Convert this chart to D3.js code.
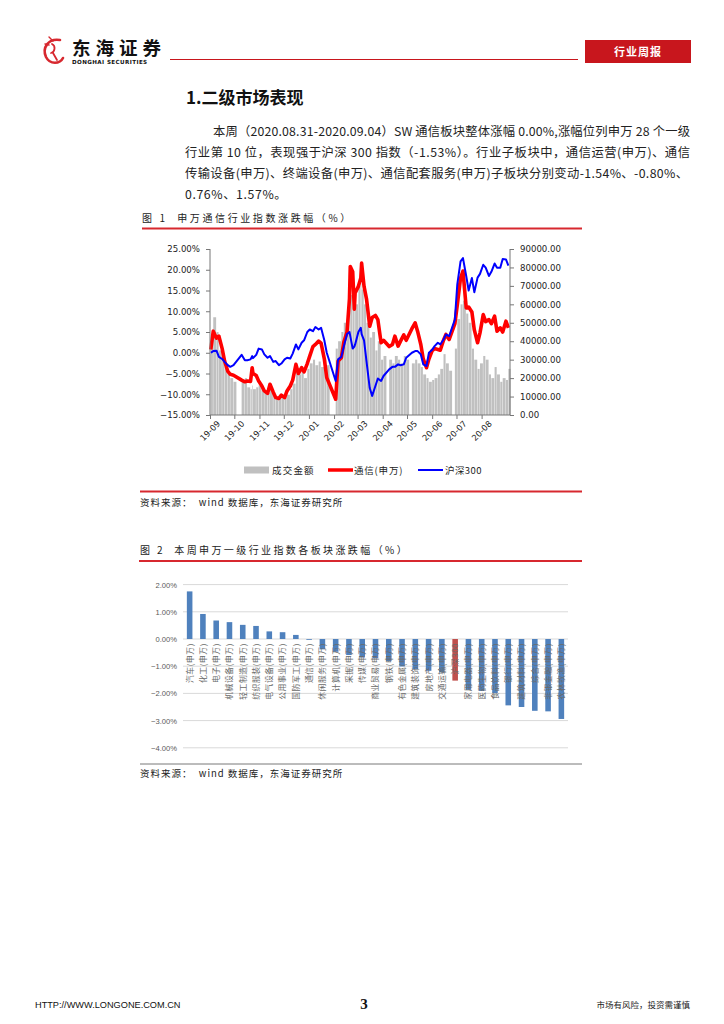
<!DOCTYPE html>
<html><head><meta charset="utf-8">
<script src="https://cdn.jsdelivr.net/npm/d3@7"></script>
<style>body{margin:0;background:#fff}svg{display:block}text{white-space:pre}</style>
</head><body>
<svg id="page" width="724" height="1024"></svg>
<script>
// ---------- Figure 1 data ----------
const lineDates = [
"2019-09-02","2019-09-05","2019-09-09","2019-09-12","2019-09-16","2019-09-19","2019-09-23","2019-09-26","2019-09-30",
"2019-10-10","2019-10-14","2019-10-17","2019-10-21","2019-10-23","2019-10-24","2019-10-28","2019-10-31",
"2019-11-04","2019-11-07","2019-11-11","2019-11-14","2019-11-18","2019-11-21","2019-11-25","2019-11-28",
"2019-12-02","2019-12-05","2019-12-09","2019-12-12","2019-12-16","2019-12-19","2019-12-23","2019-12-26","2019-12-30",
"2020-01-02","2020-01-06","2020-01-09","2020-01-13","2020-01-16","2020-01-20","2020-01-23",
"2020-02-03","2020-02-06","2020-02-10","2020-02-13","2020-02-17","2020-02-20","2020-02-21","2020-02-24","2020-02-26","2020-02-27",
"2020-03-02","2020-03-05","2020-03-06","2020-03-09","2020-03-12","2020-03-16","2020-03-19","2020-03-23","2020-03-26","2020-03-30",
"2020-04-02","2020-04-09","2020-04-13","2020-04-16","2020-04-20","2020-04-23","2020-04-27","2020-04-30",
"2020-05-07","2020-05-11","2020-05-14","2020-05-18","2020-05-21","2020-05-25","2020-05-28",
"2020-06-01","2020-06-04","2020-06-08","2020-06-11","2020-06-15","2020-06-18","2020-06-22","2020-06-29",
"2020-07-02","2020-07-06","2020-07-09","2020-07-13","2020-07-16","2020-07-20","2020-07-23","2020-07-27","2020-07-30",
"2020-08-03","2020-08-06","2020-08-10","2020-08-13","2020-08-17","2020-08-20","2020-08-24","2020-08-27","2020-08-31",
"2020-09-03"];
// 通信(申万) cumulative change, %
const telecomPct = [
0.8,5.2,3.5,4.0,1.0,-2.0,-4.5,-5.2,-5.4,
-6.6,-7.0,-6.8,-6.9,-3.6,-5.0,-5.5,-6.8,
-8.0,-9.2,-9.8,-7.6,-9.5,-10.8,-11.0,-10.2,
-10.8,-9.2,-8.0,-6.6,-2.8,-5.0,-3.6,-4.6,-2.6,
-0.8,1.5,2.0,2.8,2.3,-1.5,-6.0,
-11.2,-2.0,-1.2,2.5,5.0,13.0,20.8,19.5,10.5,14.4,
16.0,18.0,21.6,16.0,13.0,6.4,8.5,9.0,8.0,2.4,
3.0,1.5,2.0,4.0,1.6,2.8,4.3,3.0,
5.8,7.2,5.2,2.0,-1.5,-3.6,-1.5,
0.5,1.0,0.8,0.6,3.0,4.4,3.2,7.0,
11.5,18.0,19.7,10.8,11.0,9.8,5.5,2.4,4.8,
9.2,7.5,8.0,7.0,8.8,5.2,6.0,5.0,7.6,
6.0];
// 沪深300 cumulative change, %
const hs300Pct = [
0.0,0.4,0.5,-1.0,-1.5,-2.2,-3.0,-3.4,-3.0,
-0.5,-1.8,-1.8,-1.6,-0.8,-1.3,-0.5,1.0,
0.8,-0.4,-1.2,-0.8,-2.2,-2.0,-3.0,-2.6,
-1.6,-1.2,-1.4,-0.2,2.0,0.8,2.4,3.0,5.0,
5.6,5.2,6.2,5.6,6.0,3.0,0.0,
-6.8,-1.6,-1.0,1.5,4.5,5.0,4.0,1.0,1.5,2.0,
5.0,6.0,4.5,3.0,-2.0,-8.5,-10.4,-8.0,-6.2,-6.8,
-5.6,-4.0,-3.4,-3.4,-2.8,-3.0,-2.8,-1.2,
0.0,0.4,0.4,-0.4,-2.8,-3.2,0.0,
0.7,1.6,2.4,2.0,3.2,4.4,4.0,8.0,
16.5,22.0,22.8,18.5,15.0,18.0,14.6,18.1,19.0,
21.2,20.5,18.5,19.5,21.5,20.5,20.5,22.6,22.5,
21.0];
// 成交金额 (right axis)
const turnover = [
40000,53000,45000,35000,30000,26000,22000,20000,18000,
18000,20000,15000,14000,16000,14000,15000,16000,
14000,13000,12000,15000,11000,10000,10000,10000,
10000,11000,14000,17000,25000,22000,24000,20000,25000,
28000,30000,27000,29000,26000,30000,27000,
36000,40000,45000,50000,55000,60000,65000,68000,62000,60000,
70000,72000,68000,60000,50000,42000,45000,35000,40000,30000,
32000,30000,28000,32000,30000,28000,32000,30000,
28000,30000,28000,26000,22000,20000,18000,
19000,20000,22000,25000,33000,28000,24000,36000,
52000,60000,62000,55000,50000,36000,30000,25000,28000,
32000,30000,22000,20000,26000,22000,18000,20000,19000,
25000];
const leftTicks = [-15,-10,-5,0,5,10,15,20,25];
const rightTicks = [0,10000,20000,30000,40000,50000,60000,70000,80000,90000];
const monthTicks = ["2019-09-01","2019-10-01","2019-11-01","2019-12-01","2020-01-01","2020-02-01",
"2020-03-01","2020-04-01","2020-05-01","2020-06-01","2020-07-01","2020-08-01"];
const legend1 = ["成交金额","通信(申万)","沪深300"];

// ---------- Figure 2 data ----------
const industries = ["汽车(申万)","化工(申万)","电子(申万)","机械设备(申万)","轻工制造(申万)","纺织服装(申万)",
"电气设备(申万)","公用事业(申万)","国防军工(申万)","通信(申万)","休闲服务(申万)","计算机(申万)","采掘(申万)",
"传媒(申万)","商业贸易(申万)","钢铁(申万)","有色金属(申万)","建筑装饰(申万)","房地产(申万)","交通运输(申万)",
"沪深300","家用电器(申万)","医药生物(申万)","食品饮料(申万)","银行(申万)","建筑材料(申万)","综合(申万)",
"非银金融(申万)","农林牧渔(申万)"];
const weeklyChange = [1.75,0.92,0.68,0.62,0.52,0.48,0.28,0.25,0.15,0.00,-0.38,-0.47,-0.59,
-0.68,-0.71,-0.81,-1.01,-1.11,-1.17,-1.23,-1.53,-1.87,-1.91,-1.99,-2.44,-2.50,-2.64,-2.66,-2.94];
const pctTicks = [2,1,0,-1,-2,-3,-4];

const paragraph = [
"本周（2020.08.31-2020.09.04）SW 通信板块整体涨幅 0.00%,涨幅位列申万 28 个一级",
"行业第 10 位，表现强于沪深 300 指数（-1.53%）。行业子板块中，通信运营(申万)、通信",
"传输设备(申万)、终端设备(申万)、通信配套服务(申万)子板块分别变动-1.54%、-0.80%、",
"0.76%、1.57%。"];

// ---------- drawing ----------
const CJK = "'Noto Sans CJK SC','Noto Sans',sans-serif";
const svg = d3.select("#page");
svg.append("rect").attr("width",724).attr("height",1024).attr("fill","#fff");

// header
const logo = svg.append("g").attr("fill","none").attr("stroke","#d7282f").attr("stroke-linecap","round");
logo.append("path").attr("d","M60,40 C48,38 42,48 46,57 C50,65 60,64 63,58").attr("stroke-width",2.6);
logo.append("path").attr("d","M52,44 C56,46 55,52 51,53 M53,53 L57,60").attr("stroke-width",1.8);
logo.append("path").attr("d","M49,37 L53,41 M45,44 L49,45").attr("stroke-width",1.4);
svg.append("text").attr("x",72).attr("y",54.5).attr("font-family",CJK).attr("font-weight","bold")
  .attr("font-size",18.5).attr("letter-spacing",5).attr("fill","#111").text("东海证券");
svg.append("text").attr("x",72).attr("y",64).attr("font-family","'DejaVu Sans',sans-serif").attr("font-weight","bold")
  .attr("font-size",5.6).attr("letter-spacing",0.4).attr("fill","#111").text("DONGHAI SECURITIES");
svg.append("line").attr("x1",170).attr("x2",578).attr("y1",59.5).attr("y2",59.5).attr("stroke","#c8161d").attr("stroke-width",1.2);
svg.append("rect").attr("x",585).attr("y",40).attr("width",106).attr("height",23).attr("fill","#c8161d");
svg.append("text").attr("x",638).attr("y",56).attr("text-anchor","middle").attr("font-family",CJK).attr("font-weight","bold")
  .attr("font-size",11).attr("letter-spacing",1).attr("fill","#fff").text("行业周报");

// section title & paragraph
svg.append("text").attr("x",186).attr("y",104).attr("font-family",CJK).attr("font-weight","bold")
  .attr("font-size",17).attr("fill","#111").text("1.二级市场表现");
const paraX = [213,185,185,185], paraW = [477,505,503,null];
paragraph.forEach((t,i)=>{
  const el = svg.append("text").attr("x",paraX[i]).attr("y",136+i*21).attr("font-family",CJK)
    .attr("font-size",12.3).attr("fill","#222").text(t);
  if (paraW[i]) el.attr("textLength",paraW[i]).attr("lengthAdjust","spacing");
  else el.attr("letter-spacing",0.6);
});

// figure 1 caption
svg.append("text").attr("x",142).attr("y",222).attr("font-family",CJK).attr("font-size",10)
  .attr("fill","#222").attr("letter-spacing",2.6).text("图 1  申万通信行业指数涨跌幅（%）");
svg.append("line").attr("x1",142).attr("x2",582).attr("y1",228.5).attr("y2",228.5).attr("stroke","#d7282f").attr("stroke-width",2);

// chart 1
const parse = d3.timeParse("%Y-%m-%d");
const dates = lineDates.map(parse);
const x = d3.scaleTime().domain([parse("2019-09-01"),parse("2020-09-05")]).range([210,510]);
const yL = d3.scaleLinear().domain([-15,25]).range([415,249]);
const yR = d3.scaleLinear().domain([0,90000]).range([415,249]);
const dayPx = x(parse("2019-09-05"))-x(parse("2019-09-01"));

const c1 = svg.append("g");
c1.selectAll("rect.vol").data(turnover).join("rect").attr("class","vol")
  .attr("x",(d,i)=>x(dates[i]))
  .attr("width",(d,i)=>{
    const x0=x(dates[i]);
    const x1 = i<dates.length-1 ? Math.min(x(dates[i+1]), x0+dayPx) : x0+2.6;
    return Math.max(0.6,x1-x0-0.35);
  })
  .attr("y",d=>yR(d)).attr("height",d=>yR(0)-yR(d)).attr("fill","#c0c0c0");

const lineGen = vals => d3.line().x((d,i)=>x(dates[i])).y(d=>yL(d))(vals);
c1.append("path").attr("d",lineGen(telecomPct)).attr("fill","none").attr("stroke","#ff0000")
  .attr("stroke-width",3.6).attr("stroke-linejoin","round");
c1.append("path").attr("d",lineGen(hs300Pct)).attr("fill","none").attr("stroke","#0000ff")
  .attr("stroke-width",2).attr("stroke-linejoin","round");

const axFont = "'DejaVu Sans',Verdana,sans-serif";
const axL = c1.append("g").attr("transform","translate(210,0)")
  .call(d3.axisLeft(yL).tickValues(leftTicks).tickSize(4).tickFormat(d=>d3.format(".2f")(d)+"%"));
axL.selectAll("text").attr("font-family",axFont).attr("font-size",8.6).attr("fill","#222").attr("dx",-3);
const axR = c1.append("g").attr("transform","translate(510,0)")
  .call(d3.axisRight(yR).tickValues(rightTicks).tickSize(4).tickFormat(d3.format(".2f")));
axR.selectAll("text").attr("font-family",axFont).attr("font-size",8.6).attr("fill","#222").attr("dx",3);
const axB = c1.append("g").attr("transform","translate(0,415)")
  .call(d3.axisBottom(x).tickValues(monthTicks.map(parse)).tickSize(4).tickFormat(d3.timeFormat("%y-%m")));
axB.selectAll("text").attr("font-family",axFont).attr("font-size",8.4).attr("fill","#222")
  .attr("text-anchor","end").attr("transform","translate(3,2) rotate(-45)").attr("dy","0.75em").attr("y",4);
[axL,axR,axB].forEach(a=>{a.selectAll("path,line").attr("stroke","#777");a.select(".domain").attr("d",null);});
c1.append("line").attr("x1",210).attr("x2",210).attr("y1",249).attr("y2",415).attr("stroke","#777");
c1.append("line").attr("x1",510).attr("x2",510).attr("y1",249).attr("y2",415).attr("stroke","#777");
c1.append("line").attr("x1",210).attr("x2",510).attr("y1",415).attr("y2",415).attr("stroke","#777");

// legend 1
const lg = svg.append("g").attr("font-family",CJK).attr("font-size",9.5).attr("fill","#222");
lg.append("rect").attr("x",244).attr("y",466.5).attr("width",25).attr("height",7).attr("fill","#c0c0c0");
lg.append("text").attr("x",272).attr("y",474).attr("letter-spacing",1.2).text(legend1[0]);
lg.append("line").attr("x1",328).attr("x2",353).attr("y1",470).attr("y2",470).attr("stroke","#ff0000").attr("stroke-width",3.5);
lg.append("text").attr("x",354).attr("y",474).attr("letter-spacing",0.8).text(legend1[1]);
lg.append("line").attr("x1",418).attr("x2",443).attr("y1",470).attr("y2",470).attr("stroke","#0000ff").attr("stroke-width",2);
lg.append("text").attr("x",445).attr("y",474).attr("letter-spacing",0.4).text(legend1[2]);

svg.append("line").attr("x1",140).attr("x2",582).attr("y1",491.5).attr("y2",491.5).attr("stroke","#d7282f").attr("stroke-width",2);
svg.append("text").attr("x",140).attr("y",506).attr("font-family",CJK).attr("font-size",9.5).attr("fill","#222")
  .attr("letter-spacing",1).text("资料来源：  wind 数据库，东海证券研究所");

// figure 2 caption
svg.append("text").attr("x",140).attr("y",554).attr("font-family",CJK).attr("font-size",10)
  .attr("fill","#222").attr("letter-spacing",2.4).text("图 2  本周申万一级行业指数各板块涨跌幅（%）");
svg.append("line").attr("x1",139).attr("x2",582).attr("y1",561).attr("y2",561).attr("stroke","#d7282f").attr("stroke-width",2);

// chart 2
const xb = d3.scaleBand().domain(industries).range([183,568]).paddingInner(0.58).paddingOuter(0.29);
const yb = d3.scaleLinear().domain([-4,2]).range([747.8,584.6]);
const c2 = svg.append("g");
c2.selectAll("line.grid").data(pctTicks).join("line").attr("class","grid")
  .attr("x1",183).attr("x2",568).attr("y1",d=>yb(d)).attr("y2",d=>yb(d)).attr("stroke","#d9d9d9").attr("stroke-width",1);
c2.selectAll("text.yt").data(pctTicks).join("text").attr("class","yt")
  .attr("x",177).attr("y",d=>yb(d)+3).attr("text-anchor","end").attr("font-family","'Liberation Sans','Noto Sans',sans-serif")
  .attr("font-size",7.6).attr("fill","#595959").text(d=>d3.format(".2f")(d)+"%");
c2.selectAll("rect.bar").data(weeklyChange).join("rect").attr("class","bar")
  .attr("x",(d,i)=>xb(industries[i])).attr("width",xb.bandwidth())
  .attr("y",d=>yb(Math.max(0,d))).attr("height",d=>Math.max(0.8,Math.abs(yb(d)-yb(0))))
  .attr("fill",(d,i)=>industries[i]==="沪深300"?"#c0504d":"#4f81bd");
c2.selectAll("text.cat").data(industries).join("text").attr("class","cat")
  .attr("transform",d=>`translate(${xb(d)+xb.bandwidth()/2+2.9},643) rotate(-90)`)
  .attr("text-anchor","end").attr("font-family",CJK).attr("font-size",7.8).attr("letter-spacing",0.6)
  .attr("fill","#6a6a6a").text(d=>d);

svg.append("line").attr("x1",140).attr("x2",582).attr("y1",764).attr("y2",764).attr("stroke","#555").attr("stroke-width",0.8);
svg.append("text").attr("x",140).attr("y",777).attr("font-family",CJK).attr("font-size",9.5).attr("fill","#222")
  .attr("letter-spacing",1).text("资料来源：  wind 数据库，东海证券研究所");

// footer
svg.append("text").attr("x",35).attr("y",1008).attr("font-family","'Liberation Sans',Arial,sans-serif")
  .attr("font-size",9.2).attr("fill","#111").text("HTTP://WWW.LONGONE.COM.CN");
svg.append("text").attr("x",364).attr("y",1009).attr("text-anchor","middle").attr("font-family","'Liberation Serif',serif")
  .attr("font-weight","bold").attr("font-size",15).attr("fill","#111").text("3");
svg.append("text").attr("x",690).attr("y",1008).attr("text-anchor","end").attr("font-family",CJK)
  .attr("font-size",8.5).attr("fill","#222").text("市场有风险，投资需谨慎");
</script>
</body></html>
